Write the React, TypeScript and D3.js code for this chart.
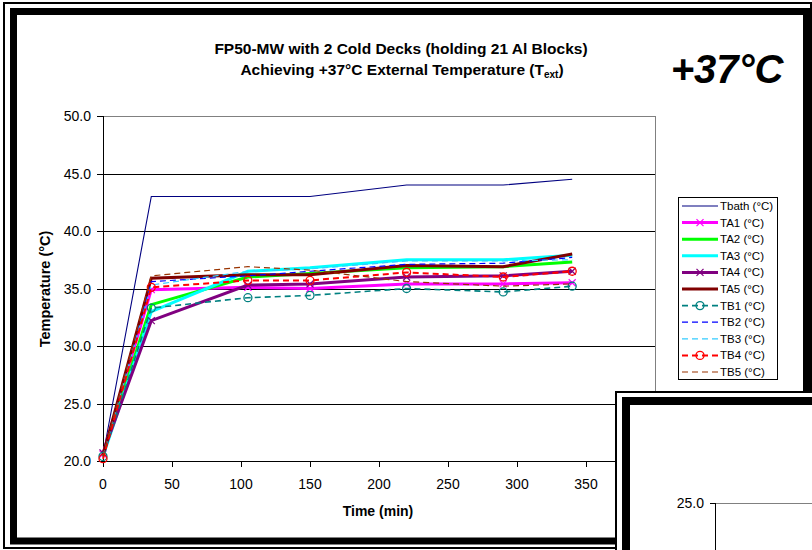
import React from 'react';
import * as d3 from 'd3';

const times = [0, 35, 105, 150, 220, 290, 340];
const seriesNames = ['Tbath (°C)', 'TA1 (°C)', 'TA2 (°C)', 'TA3 (°C)', 'TA4 (°C)', 'TA5 (°C)', 'TB1 (°C)', 'TB2 (°C)', 'TB3 (°C)', 'TB4 (°C)', 'TB5 (°C)'];
const tbath = [20.5, 43.0, 43.0, 43.0, 44.0, 44.0, 44.5];
const ta1 = [20.6, 34.9, 35.1, 35.0, 35.4, 35.4, 35.5];
const ta2 = [20.5, 33.6, 36.0, 36.3, 36.8, 36.9, 37.3];
const ta3 = [20.4, 33.0, 36.5, 36.8, 37.5, 37.5, 37.9];
const ta4 = [20.7, 32.2, 35.3, 35.4, 36.0, 36.1, 36.5];
const ta5 = [20.5, 35.9, 36.2, 36.2, 37.0, 36.9, 38.0];
const tb1 = [20.4, 33.3, 34.2, 34.4, 35.0, 34.7, 35.2];
const tb2 = [20.4, 35.6, 36.1, 36.5, 37.1, 37.2, 37.7];
const tb3 = [20.4, 35.3, 36.5, 36.7, 37.4, 37.4, 37.5];
const tb4 = [20.2, 35.1, 35.7, 35.7, 36.4, 36.0, 36.5];
const tb5 = [20.4, 36.1, 36.9, 36.6, 35.6, 35.2, 35.4];
const yTicks = [20, 25, 30, 35, 40, 45, 50];
const xTicks = [0, 50, 100, 150, 200, 250, 300, 350, 400];

const seriesValues = [tbath, ta1, ta2, ta3, ta4, ta5, tb1, tb2, tb3, tb4, tb5];

type Style = { color: string; width: number; dash?: string; marker?: 'x' | 'o' };
const styles: Style[] = [
  { color: '#000080', width: 1.1 },
  { color: '#FF00FF', width: 3, marker: 'x' },
  { color: '#00FF00', width: 3 },
  { color: '#00FFFF', width: 3 },
  { color: '#800080', width: 3, marker: 'x' },
  { color: '#800000', width: 3 },
  { color: '#008080', width: 1.6, dash: '6,4', marker: 'o' },
  { color: '#0000FF', width: 1.2, dash: '6,4' },
  { color: '#33CCFF', width: 1.2, dash: '6,4' },
  { color: '#FF0000', width: 2, dash: '6,4', marker: 'o' },
  { color: '#993300', width: 1.2, dash: '6,4' },
];

const FONT = 'Liberation Sans, Arial, sans-serif';

function Marker({ kind, x, y, color }: { kind?: 'x' | 'o'; x: number; y: number; color: string }) {
  if (kind === 'x') {
    const s = 3.5;
    return (
      <g stroke={color} strokeWidth={1.2}>
        <line x1={x - s} y1={y - s} x2={x + s} y2={y + s} />
        <line x1={x - s} y1={y + s} x2={x + s} y2={y - s} />
      </g>
    );
  }
  if (kind === 'o') {
    return <circle cx={x} cy={y} r={4} fill="none" stroke={color} strokeWidth={1.3} />;
  }
  return null;
}

export default function App() {
  const W = 812, H = 550;
  const x = d3.scaleLinear().domain([0, 400]).range([103, 655]);
  const y = d3.scaleLinear().domain([20, 50]).range([461, 116]);
  const line = d3.line<number>().x((_, i) => x(times[i])).y((d) => y(d));

  const legX = 678, legY = 197, legW = 99, legH = 182;
  const rowH = 16.6;

  return (
    <svg width={W} height={H} style={{ position: 'absolute', left: 0, top: 0, background: '#fff' }} fontFamily={FONT}>
      <rect x={0} y={0} width={W} height={H} fill="#fff" />
      {/* main frame */}
      <rect x={4} y={3} width={807} height={545} fill="none" stroke="#000" strokeWidth={2} />
      <rect x={13.5} y={11.5} width={793} height={529.5} fill="none" stroke="#000" strokeWidth={7} />

      {/* titles */}
      <text x={401} y={54} textAnchor="middle" fontSize={15.5} fontWeight="bold">FP50-MW with 2 Cold Decks (holding 21 Al Blocks)</text>
      <text x={402} y={75} textAnchor="middle" fontSize={15.5} fontWeight="bold">
        Achieving +37°C External Temperature (T<tspan fontSize={10} dy={3}>ext</tspan><tspan dy={-3}>)</tspan>
      </text>
      <text x={727} y={83} textAnchor="middle" fontSize={40} fontWeight="bold" fontStyle="italic">+37°C</text>

      {/* gridlines */}
      {yTicks.filter((t) => t > 20 && t < 50).map((t) => (
        <line key={t} x1={103} x2={655} y1={Math.round(y(t)) + 0.5} y2={Math.round(y(t)) + 0.5} stroke="#000" strokeWidth={1} />
      ))}
      <line x1={103} x2={655} y1={116.5} y2={116.5} stroke="#808080" strokeWidth={1} />
      <line x1={655.5} x2={655.5} y1={116} y2={461} stroke="#808080" strokeWidth={1} />

      {/* axes */}
      <line x1={103.5} x2={103.5} y1={116} y2={461} stroke="#000" strokeWidth={1} />
      <line x1={103} x2={655} y1={461.5} y2={461.5} stroke="#000" strokeWidth={1} />
      {yTicks.map((t) => (
        <g key={t}>
          <line x1={97} x2={103} y1={Math.round(y(t)) + 0.5} y2={Math.round(y(t)) + 0.5} stroke="#000" />
          <text x={91} y={y(t) + 5} textAnchor="end" fontSize={14}>{t.toFixed(1)}</text>
        </g>
      ))}
      {xTicks.map((t) => (
        <g key={t}>
          <line x1={Math.round(x(t)) + 0.5} x2={Math.round(x(t)) + 0.5} y1={461} y2={467} stroke="#000" />
          <text x={x(t)} y={489} textAnchor="middle" fontSize={14}>{t}</text>
        </g>
      ))}
      <text x={378} y={516} textAnchor="middle" fontSize={14} fontWeight="bold">Time (min)</text>
      <text transform={`translate(50,289) rotate(-90)`} textAnchor="middle" fontSize={14.5} fontWeight="bold">Temperature (°C)</text>

      {/* series */}
      {seriesValues.map((vals, si) => {
        const st = styles[si];
        return (
          <g key={si}>
            <path d={line(vals) || ''} fill="none" stroke={st.color} strokeWidth={st.width} strokeDasharray={st.dash} strokeLinejoin="miter" />
            {st.marker && vals.map((v, i) => (
              <Marker key={i} kind={st.marker} x={x(times[i])} y={y(v)} color={st.color} />
            ))}
          </g>
        );
      })}

      {/* legend */}
      <rect x={legX + 0.5} y={legY + 0.5} width={legW} height={legH} fill="#fff" stroke="#000" strokeWidth={1} />
      {seriesNames.map((name, i) => {
        const st = styles[i];
        const cy = legY + 9 + i * rowH;
        return (
          <g key={name}>
            <line x1={682} x2={718} y1={cy} y2={cy} stroke={st.color} strokeWidth={st.width} strokeDasharray={st.dash} />
            <Marker kind={st.marker} x={700} y={cy} color={st.color} />
            <text x={720} y={cy + 4} fontSize={11.5}>{name}</text>
          </g>
        );
      })}

      {/* overlapping second chart frame */}
      <rect x={616} y={392} width={300} height={200} fill="#fff" stroke="#000" strokeWidth={2} />
      <rect x={626} y={401} width={300} height={200} fill="#fff" stroke="#000" strokeWidth={8} />
      <line x1={715} x2={812} y1={503.5} y2={503.5} stroke="#808080" />
      <line x1={715.5} x2={715.5} y1={503} y2={550} stroke="#000" />
      <line x1={710} x2={715} y1={503.5} y2={503.5} stroke="#000" />
      <text x={704} y={508} textAnchor="end" fontSize={14}>25.0</text>
    </svg>
  );
}
